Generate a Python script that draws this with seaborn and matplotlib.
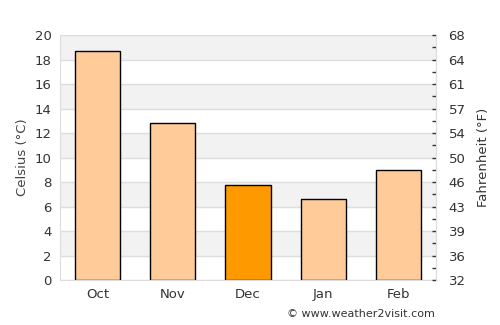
import matplotlib
matplotlib.use("Agg")
import matplotlib.pyplot as plt
import seaborn as sns
import pandas as pd

months = ["Oct", "Nov", "Dec", "Jan", "Feb"]
temps_c = [18.7, 12.8, 7.8, 6.6, 9.0]
highlight = "Dec"
c_ticks = [0, 2, 4, 6, 8, 10, 12, 14, 16, 18, 20]
f_labels = ["32", "36", "39", "43", "46", "50", "54", "57", "61", "64", "68"]


def main():
    sns.set_style("white")
    plt.rcParams["font.family"] = ["DejaVu Sans"]

    df = pd.DataFrame({"month": months, "temp": temps_c})
    palette = {m: ("#ff9900" if m == highlight else "#ffcc99") for m in months}

    fig = plt.figure(figsize=(5, 3.25), dpi=100)
    ax = fig.add_axes([0.12, 0.138, 0.752, 0.754])

    # alternating bands
    for lo in range(2, 20, 4):
        ax.axhspan(lo, lo + 2, color="#f2f2f2", zorder=0, lw=0)
    for t in c_ticks:
        ax.axhline(t, color="#dddddd", lw=1, zorder=0.5)

    sns.barplot(
        data=df, x="month", y="temp", hue="month", palette=palette,
        width=0.6, edgecolor="black", linewidth=1, legend=False, ax=ax,
        saturation=1, zorder=2,
    )

    ax.set_ylim(0, 20)
    ax.set_xlim(-0.5, 4.5)
    ax.set_yticks(c_ticks)
    ax.set_xlabel("")
    ax.set_ylabel("Celsius (°C)", color="#444444", fontsize=9.5)
    ax.tick_params(axis="both", length=0, labelsize=9.5, colors="#333333", pad=6)
    for s in ax.spines.values():
        s.set_color("#dddddd")
    ax.spines["top"].set_visible(False)

    ax2 = ax.twinx()
    ax2.set_ylim(0, 20)
    ax2.set_yticks(c_ticks)
    ax2.set_yticklabels(f_labels)
    ax2.set_yticks(range(1, 20, 2), minor=True)
    ax2.tick_params(axis="y", which="both", direction="in", length=3, width=1,
                    colors="#333333", labelsize=9.5, pad=9)
    ax2.set_ylabel("Fahrenheit (°F)", color="#333333", fontsize=9.5, labelpad=8)
    for s in ax2.spines.values():
        s.set_visible(False)
    ax2.spines["right"].set_visible(True)
    ax2.spines["right"].set_color("#dddddd")

    fig.text(0.87, 0.035, "© www.weather2visit.com", ha="right", va="center",
             fontsize=8, color="#333333")

    fig.savefig("out.png", dpi=100)


if __name__ == "__main__":
    main()
